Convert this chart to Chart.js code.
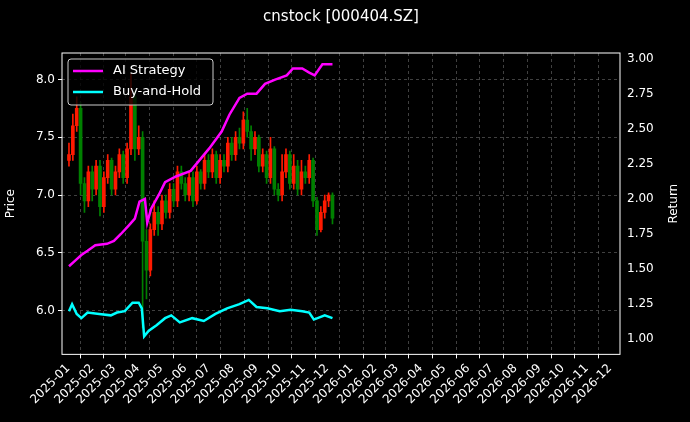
<!DOCTYPE html>
<html>
<head>
<meta charset="utf-8">
<script src="https://cdn.jsdelivr.net/npm/chart.js@4/dist/chart.umd.min.js"></script>
<style>
  body { margin: 0; background: #000; }
  #wrap { width: 690px; height: 422px; }
</style>
</head>
<body>
<div id="wrap"><canvas id="chart"></canvas></div>
<script>
// Candles (red = up, green = down)
var candleDates = ["2025-01-02","2025-01-07","2025-01-12","2025-01-17","2025-01-22","2025-01-27",
  "2025-02-01","2025-02-06","2025-02-11","2025-02-16","2025-02-21","2025-02-26",
  "2025-03-03","2025-03-08","2025-03-13","2025-03-18","2025-03-23","2025-03-28",
  "2025-04-02","2025-04-07","2025-04-12","2025-04-17","2025-04-22","2025-04-27",
  "2025-05-02","2025-05-07","2025-05-12","2025-05-17","2025-05-22","2025-05-27",
  "2025-06-01","2025-06-06","2025-06-11","2025-06-16","2025-06-21","2025-06-26",
  "2025-07-01","2025-07-06","2025-07-11","2025-07-16","2025-07-21","2025-07-26",
  "2025-07-31","2025-08-05","2025-08-10","2025-08-15","2025-08-20","2025-08-25",
  "2025-08-30","2025-09-04","2025-09-09","2025-09-14","2025-09-19","2025-09-24",
  "2025-09-29","2025-10-04","2025-10-09","2025-10-14","2025-10-19","2025-10-24",
  "2025-10-29","2025-11-03","2025-11-08","2025-11-13","2025-11-18","2025-11-23",
  "2025-11-28","2025-12-03","2025-12-08"];
var openP  = [7.30,7.35,7.60,7.75,7.10,6.95, 7.20,7.05,7.25,6.90,7.15,7.30, 7.05,7.20,7.35,7.15,7.40,7.85,
  7.40,7.50,6.60,6.35,6.70,6.85, 6.75,6.95,6.85,7.05,6.95,7.20, 7.10,7.00,7.15,6.95,7.20,7.10,
  7.30,7.20,7.35,7.15,7.30,7.25, 7.45,7.35,7.50,7.45,7.65,7.55, 7.40,7.50,7.25,7.35,7.15,7.40,
  7.05,7.00,7.20,7.35,7.10,7.25, 7.05,7.20,7.15,7.30,6.95,6.70, 6.85,6.95,7.00];
var closeP = [7.35,7.60,7.75,7.10,6.95,7.20, 7.05,7.25,6.90,7.15,7.30,7.05, 7.20,7.35,7.15,7.40,7.85,7.40,
  7.50,6.60,6.35,6.70,6.85,6.75, 6.95,6.85,7.05,6.95,7.20,7.10, 7.00,7.15,6.95,7.20,7.10,7.30,
  7.20,7.35,7.15,7.30,7.25,7.45, 7.35,7.50,7.45,7.65,7.55,7.40, 7.50,7.25,7.35,7.15,7.40,7.05,
  7.00,7.20,7.35,7.10,7.25,7.05, 7.20,7.15,7.30,6.95,6.70,6.85, 6.95,7.00,6.80];
var highP  = [7.45,7.70,7.85,7.80,7.15,7.25, 7.25,7.30,7.30,7.20,7.35,7.32, 7.25,7.40,7.38,7.45,8.05,7.90,
  7.60,7.55,6.70,6.75,6.95,6.90, 7.00,7.00,7.10,7.10,7.25,7.25, 7.15,7.20,7.20,7.25,7.22,7.35,
  7.35,7.40,7.38,7.35,7.35,7.50, 7.50,7.55,7.58,7.72,7.75,7.60, 7.55,7.52,7.40,7.38,7.50,7.42,
  7.10,7.35,7.40,7.38,7.35,7.30, 7.30,7.25,7.35,7.32,6.98,6.90, 7.00,7.02,7.02];
var lowP   = [7.25,7.30,7.55,7.00,6.85,6.90, 6.95,7.00,6.82,6.85,7.10,7.00, 7.00,7.15,7.10,7.10,7.35,7.30,
  7.35,5.85,6.10,6.30,6.65,6.65, 6.70,6.80,6.80,6.90,6.90,7.05, 6.95,6.95,6.90,6.92,7.05,7.05,
  7.15,7.15,7.10,7.10,7.20,7.20, 7.30,7.30,7.40,7.40,7.50,7.30, 7.35,7.20,7.20,7.10,7.10,7.00,
  6.95,6.95,7.15,7.05,7.05,7.00, 7.00,7.10,7.10,6.90,6.65,6.68, 6.80,6.90,6.75];

// Strategy returns
var aiDates = ["2025-01-02","2025-01-10","2025-01-18","2025-01-26","2025-02-05","2025-02-20","2025-03-01",
  "2025-03-10","2025-03-20","2025-03-28","2025-04-03","2025-04-10","2025-04-13","2025-04-18","2025-04-28",
  "2025-05-06","2025-05-20","2025-06-08","2025-06-20","2025-07-02","2025-07-18","2025-07-28","2025-08-10",
  "2025-08-20","2025-09-01","2025-09-12","2025-09-25","2025-10-10","2025-10-18","2025-10-30","2025-11-08",
  "2025-11-15","2025-11-25","2025-12-08"];
var aiReturn = [1.52,1.56,1.60,1.63,1.67,1.68,1.70, 1.75,1.81,1.86,1.98,2.00,1.83,1.93,2.03,
  2.12,2.16,2.20,2.28,2.36,2.48,2.60,2.72, 2.75,2.75,2.82,2.85,2.88,2.93,2.93,2.90,
  2.88,2.96,2.96];
var bhDates = ["2025-01-02","2025-01-06","2025-01-12","2025-01-18","2025-01-26","2025-02-10","2025-02-25",
  "2025-03-05","2025-03-15","2025-03-25","2025-04-02","2025-04-06","2025-04-09","2025-04-15","2025-04-25",
  "2025-05-06","2025-05-14","2025-05-25","2025-06-10","2025-06-25","2025-07-10","2025-07-25","2025-08-10",
  "2025-08-22","2025-09-01","2025-09-15","2025-10-01","2025-10-15","2025-10-30","2025-11-08","2025-11-14",
  "2025-11-28","2025-12-08"];
var bhReturn = [1.20,1.25,1.18,1.15,1.19,1.18,1.17, 1.19,1.20,1.26,1.26,1.22,1.02,1.06,1.10,
  1.15,1.17,1.12,1.15,1.13,1.18,1.22,1.25, 1.28,1.23,1.22,1.20,1.21,1.20,1.19,1.14,
  1.17,1.15];

var monthLabels = [];
for (var yr = 2025; yr <= 2026; yr++) {
  for (var m = 1; m <= 12; m++) monthLabels.push(yr + "-" + (m < 10 ? "0" + m : m));
}

// day offset from 2025-01-01
var base = Date.UTC(2025, 0, 1);
function dayOf(s) {
  var p = s.split("-");
  return (Date.UTC(+p[0], +p[1] - 1, p[2] ? +p[2] : 1) - base) / 86400000;
}
var monthTicks = monthLabels.map(dayOf);

var wicks = [], bodies = [], colors = [];
candleDates.forEach(function (d, i) {
  var x = dayOf(d);
  wicks.push({ x: x, y: [lowP[i], highP[i]] });
  bodies.push({ x: x, y: [openP[i], closeP[i]] });
  colors.push(closeP[i] >= openP[i] ? "#ff1a00" : "#008000");
});
var aiData = aiDates.map(function (d, i) { return { x: dayOf(d), y: aiReturn[i] }; });
var bhData = bhDates.map(function (d, i) { return { x: dayOf(d), y: bhReturn[i] }; });

var gridColor = "rgba(128,128,128,0.5)";

// legend drawn inside the plot, top-left
var insideLegend = {
  id: "insideLegend",
  afterDraw: function (chart) {
    var ctx = chart.ctx, a = chart.chartArea;
    var items = [["AI Strategy", "#ff00ff"], ["Buy-and-Hold", "#00ffff"]];
    var x = a.left + 6, y = a.top + 6, w = 145, h = 46;
    ctx.save();
    ctx.fillStyle = "rgba(0,0,0,0.8)";
    ctx.strokeStyle = "#cccccc";
    ctx.lineWidth = 1;
    ctx.beginPath();
    ctx.roundRect(x, y, w, h, 3);
    ctx.fill(); ctx.stroke();
    ctx.font = "13px 'DejaVu Sans'";
    ctx.textBaseline = "middle";
    items.forEach(function (it, i) {
      var cy = y + 12 + i * 21;
      ctx.strokeStyle = it[1];
      ctx.lineWidth = 2.5;
      ctx.beginPath(); ctx.moveTo(x + 5, cy); ctx.lineTo(x + 35, cy); ctx.stroke();
      ctx.fillStyle = "#ffffff";
      ctx.fillText(it[0], x + 45, cy);
    });
    // right axis title, reading bottom to top
    ctx.translate(chart.scales.yR.right - 8, (a.top + a.bottom) / 2);
    ctx.rotate(-Math.PI / 2);
    ctx.font = "12px 'DejaVu Sans'";
    ctx.textAlign = "center";
    ctx.fillText("Return", 0, 0);
    ctx.restore();
  }
};

var bgPlugin = {
  id: "bg",
  beforeDraw: function (chart) {
    var ctx = chart.ctx;
    ctx.save(); ctx.fillStyle = "#000"; ctx.fillRect(0, 0, chart.width, chart.height); ctx.restore();
  },
  afterDatasetsDraw: function (chart) {
    var ctx = chart.ctx, a = chart.chartArea;
    ctx.save(); ctx.strokeStyle = "#ffffff"; ctx.lineWidth = 1;
    ctx.strokeRect(a.left, a.top, a.right - a.left, a.bottom - a.top); ctx.restore();
  }
};

Chart.defaults.font.family = "'DejaVu Sans'";
Chart.defaults.color = "#ffffff";

new Chart(document.getElementById("chart"), {
  type: "bar",
  data: {
    datasets: [{
      type: "line", label: "AI Strategy", data: aiData, yAxisID: "yR",
      borderColor: "#ff00ff", borderWidth: 2.5, pointRadius: 0, tension: 0, order: 0
    }, {
      type: "line", label: "Buy-and-Hold", data: bhData, yAxisID: "yR",
      borderColor: "#00ffff", borderWidth: 2.5, pointRadius: 0, tension: 0, order: 0
    }, {
      label: "wick", data: wicks, yAxisID: "y", backgroundColor: colors,
      barThickness: 1, grouped: false, order: 2
    }, {
      label: "body", data: bodies, yAxisID: "y", backgroundColor: colors,
      barThickness: 3, grouped: false, order: 1
    }]
  },
  options: {
    responsive: true,
    maintainAspectRatio: false,
    animation: false,
    layout: { padding: { top: 0, right: 8, bottom: 12, left: 0 } },
    plugins: {
      legend: { display: false },
      tooltip: { enabled: false },
      title: {
        display: true, text: "cnstock [000404.SZ]", color: "#ffffff",
        font: { size: 15, weight: "normal" }, padding: { top: 8, bottom: 27 }
      }
    },
    scales: {
      x: {
        type: "linear", min: -8, max: 712, offset: false,
        afterBuildTicks: function (s) { s.ticks = monthTicks.map(function (v) { return { value: v }; }); },
        ticks: {
          color: "#ffffff", font: { size: 12 }, maxRotation: 45, minRotation: 45, autoSkip: false,
          callback: function (v) { var i = monthTicks.indexOf(v); return i >= 0 ? monthLabels[i] : ""; }
        },
        grid: { color: gridColor, tickColor: "#ffffff", tickLength: 4 },
        border: { display: false, dash: [3, 3] }
      },
      y: {
        position: "left", min: 5.62, max: 8.23,
        afterBuildTicks: function (s) { s.ticks = [6.0, 6.5, 7.0, 7.5, 8.0].map(function (v) { return { value: v }; }); },
        ticks: { color: "#ffffff", font: { size: 12 }, callback: function (v) { return v.toFixed(1); } },
        title: { display: true, text: "Price", color: "#ffffff", font: { size: 12 } },
        grid: { color: gridColor, tickColor: "#ffffff", tickLength: 4 },
        border: { display: false, dash: [3, 3] },
        afterFit: function (s) { s.width = 62; }
      },
      yR: {
        position: "right", min: 0.892, max: 3.04,
        afterBuildTicks: function (s) {
          s.ticks = [1.0, 1.25, 1.5, 1.75, 2.0, 2.25, 2.5, 2.75, 3.0].map(function (v) { return { value: v }; });
        },
        ticks: { color: "#ffffff", font: { size: 12 }, callback: function (v) { return v.toFixed(2); } },
        grid: { display: false, tickColor: "#ffffff", tickLength: 4 },
        border: { display: false },
        afterFit: function (s) { s.width = 62; }
      }
    }
  },
  plugins: [bgPlugin, insideLegend]
});
</script>
</body>
</html>
